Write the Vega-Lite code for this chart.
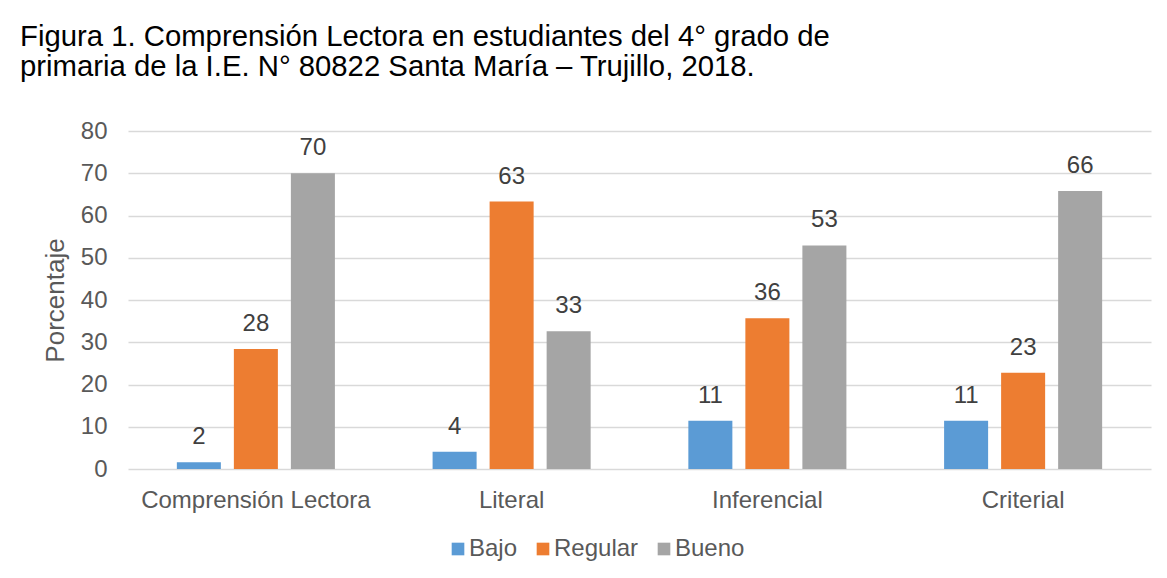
{
  "$schema": "https://vega.github.io/schema/vega-lite/v6.json",
  "autosize": {"type": "none"},
  "width": 1023,
  "height": 338,
  "padding": {"left": 128, "top": 131, "right": 16, "bottom": 109},
  "background": "white",
  "title": {
    "text": ["Figura 1. Comprensión Lectora en estudiantes del 4° grado de", "primaria de la I.E. N° 80822 Santa María – Trujillo, 2018."],
    "anchor": "start",
    "frame": "group",
    "dx": -108,
    "dy": 5,
    "offset": 42,
    "font": "Liberation Sans",
    "fontSize": 29.3,
    "fontWeight": "normal",
    "color": "#000000",
    "lineHeight": 30
  },
  "data": {
    "values": [
      {"dimension": "Comprensión Lectora", "nivel": "Bajo", "porcentaje": 1.6},
      {"dimension": "Comprensión Lectora", "nivel": "Regular", "porcentaje": 28.4},
      {"dimension": "Comprensión Lectora", "nivel": "Bueno", "porcentaje": 70.0},
      {"dimension": "Literal", "nivel": "Bajo", "porcentaje": 4.1},
      {"dimension": "Literal", "nivel": "Regular", "porcentaje": 63.3},
      {"dimension": "Literal", "nivel": "Bueno", "porcentaje": 32.6},
      {"dimension": "Inferencial", "nivel": "Bajo", "porcentaje": 11.4},
      {"dimension": "Inferencial", "nivel": "Regular", "porcentaje": 35.7},
      {"dimension": "Inferencial", "nivel": "Bueno", "porcentaje": 52.9},
      {"dimension": "Criterial", "nivel": "Bajo", "porcentaje": 11.4},
      {"dimension": "Criterial", "nivel": "Regular", "porcentaje": 22.8},
      {"dimension": "Criterial", "nivel": "Bueno", "porcentaje": 65.8}
    ]
  },
  "encoding": {
    "x": {
      "field": "dimension",
      "type": "nominal",
      "sort": ["Comprensión Lectora", "Literal", "Inferencial", "Criterial"],
      "scale": {"paddingInner": 0.382, "paddingOuter": 0.191},
      "axis": {
        "title": null,
        "labelAngle": 0,
        "labelFont": "Liberation Sans",
        "labelFontSize": 24,
        "labelColor": "#595959",
        "labelPadding": 19,
        "labelLimit": 0,
        "ticks": false,
        "domain": false
      }
    },
    "xOffset": {
      "field": "nivel",
      "type": "nominal",
      "sort": ["Bajo", "Regular", "Bueno"],
      "scale": {"paddingInner": 0.228, "paddingOuter": 0}
    },
    "y": {
      "field": "porcentaje",
      "type": "quantitative",
      "scale": {"domain": [0, 80], "nice": false},
      "axis": {
        "title": "Porcentaje",
        "values": [0, 10, 20, 30, 40, 50, 60, 70, 80],
        "titleFont": "Liberation Sans",
        "titleFontSize": 26,
        "titleFontWeight": "normal",
        "titleColor": "#595959",
        "titlePadding": 12,
        "labelFont": "Liberation Sans",
        "labelFontSize": 24,
        "labelColor": "#595959",
        "labelPadding": 21,
        "ticks": false,
        "domain": false,
        "grid": true,
        "gridColor": "#d9d9d9",
        "gridWidth": 1.3
      }
    }
  },
  "layer": [
    {
      "mark": {"type": "bar"},
      "encoding": {
        "color": {
          "field": "nivel",
          "type": "nominal",
          "sort": ["Bajo", "Regular", "Bueno"],
          "scale": {"domain": ["Bajo", "Regular", "Bueno"], "range": ["#5b9bd5", "#ed7d31", "#a5a5a5"]},
          "legend": {
            "title": null,
            "orient": "none",
            "legendX": 318,
            "legendY": 406,
            "padding": 0,
            "direction": "horizontal",
            "symbolType": "square",
            "symbolSize": 160,
            "symbolStrokeWidth": 0,
            "labelFont": "Liberation Sans",
            "labelFontSize": 24,
            "labelColor": "#595959",
            "labelOffset": -1,
            "columnPadding": 13
          }
        }
      }
    },
    {
      "mark": {"type": "text", "baseline": "bottom", "dy": -13, "font": "Liberation Sans", "fontSize": 24, "color": "#404040"},
      "encoding": {
        "text": {"field": "porcentaje", "type": "quantitative", "format": ".0f"}
      }
    }
  ],
  "config": {
    "view": {"stroke": null}
  }
}
